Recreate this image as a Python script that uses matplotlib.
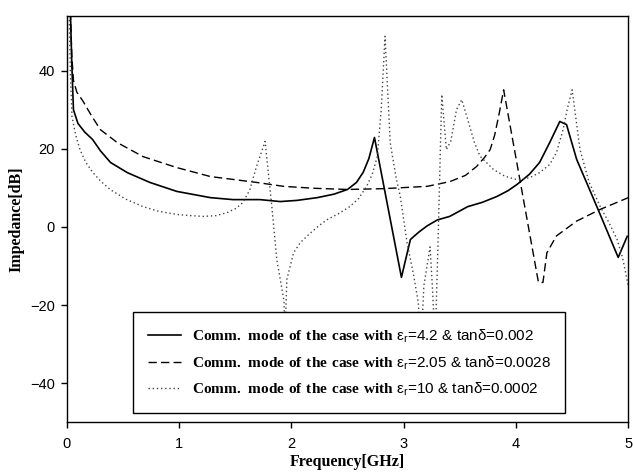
#!/usr/bin/env python3
"""
Common-mode impedance vs. frequency for three substrate cases.
Recreated line chart (solid / dashed / dotted curves) with boxed legend.
"""

import matplotlib
matplotlib.use('Agg')
import matplotlib.pyplot as plt

# --- data -----------------------------------------------------------------
# case 1: er=4.2, tan d=0.002 (solid)
solid_freq = [0.015, 0.03, 0.045, 0.06, 0.10, 0.16, 0.23, 0.30, 0.39, 0.54,
              0.74, 0.98, 1.28, 1.48, 1.72, 1.90, 2.05, 2.23, 2.38, 2.50,
              2.58, 2.64, 2.69, 2.74, 2.98, 3.06, 3.14, 3.21, 3.30, 3.41,
              3.57, 3.70, 3.83, 3.93, 4.01, 4.12, 4.21, 4.30, 4.39, 4.45,
              4.54, 4.72, 4.91, 4.99]
solid_imp = [80, 58, 42, 30, 26.5, 24.3, 22.4, 19.5, 16.5, 13.9,
             11.4, 9.1, 7.5, 7.0, 7.0, 6.5, 6.8, 7.5, 8.4, 9.6,
             11.4, 14.0, 17.5, 22.9, -12.9, -3.2, -1.2, 0.3, 1.8, 2.7,
             5.2, 6.3, 7.8, 9.3, 10.9, 13.5, 16.5, 21.6, 27.0, 26.2,
             17.3, 5.2, -7.8, -2.4]

# case 2: er=2.05, tan d=0.0028 (dashed)
dash_freq = [0.015, 0.03, 0.045, 0.06, 0.09, 0.145, 0.22, 0.30, 0.45, 0.68,
             0.98, 1.28, 1.69, 1.93, 2.20, 2.50, 2.82, 3.21, 3.41, 3.55,
             3.65, 3.72, 3.77, 3.81, 3.85, 3.89, 4.20, 4.24, 4.275, 4.36,
             4.54, 4.75, 5.0]
dash_imp = [80, 58, 44, 37.5, 34.5, 32.2, 28.5, 24.9, 21.6, 18.0,
            15.2, 12.9, 11.4, 10.4, 9.9, 9.6, 9.8, 10.4, 11.6, 13.2,
            15.5, 17.8, 19.8, 23.5, 29.0, 35.1, -14.2, -14.2, -6.6, -2.3,
            1.5, 4.5, 7.5]

# case 3: er=10, tan d=0.0002 (dotted)
dot_freq = [0.012, 0.022, 0.032, 0.047, 0.08, 0.118, 0.17, 0.234, 0.30, 0.386,
            0.52, 0.68, 0.82, 0.98, 1.10, 1.215, 1.33, 1.43, 1.51, 1.57,
            1.63, 1.69, 1.766, 1.826, 1.87, 1.935, 1.945, 1.952, 1.96, 2.02,
            2.08, 2.16, 2.24, 2.32, 2.42, 2.52, 2.60, 2.67, 2.72, 2.765,
            2.80, 2.834, 2.88, 2.93, 2.97, 3.03, 3.09, 3.13, 3.155, 3.18,
            3.235, 3.255, 3.28, 3.305, 3.339, 3.38, 3.42, 3.47, 3.517, 3.57,
            3.63, 3.68, 3.80, 3.90, 4.01, 4.12, 4.21, 4.30, 4.36, 4.42,
            4.455, 4.50, 4.57, 4.65, 4.75, 4.83, 4.90, 4.95, 5.0]
dot_imp = [80, 55, 40, 28.2, 23.5, 19.8, 16.5, 13.9, 11.8, 9.6,
           7.2, 5.2, 4.0, 3.2, 2.9, 2.7, 2.9, 3.7, 4.8, 6.3,
           9.5, 15.5, 21.9, 5.3, -8.3, -19, -35, -20, -13.4, -6.6,
           -4.0, -1.8, 0.2, 1.9, 3.4, 5.2, 7.3, 10.4, 13.5, 18.0,
           30, 48.8, 21.6, 13.0, 7.8, -4.0, -12.6, -19.3, -30, -15,
           -5.1, -15, -30, -5, 33.9, 19.8, 22.0, 30.0, 32.6, 27.5,
           21.6, 18.1, 14.7, 13.0, 12.1, 12.6, 13.9, 16.0, 19.0, 25.0,
           30.0, 35.1, 19.8, 11.5, 5.2, 1.0, -3.2, -8.0, -15.2]

labels = [
    r"$\mathbf{Comm.\ mode\ of\ the\ case\ with}$ ε$_\mathrm{r}$=4.2 & tanδ=0.002",
    r"$\mathbf{Comm.\ mode\ of\ the\ case\ with}$ ε$_\mathrm{r}$=2.05 & tanδ=0.0028",
    r"$\mathbf{Comm.\ mode\ of\ the\ case\ with}$ ε$_\mathrm{r}$=10 & tanδ=0.0002",
]

xticks = [0, 1, 2, 3, 4, 5]
yticks = [-40, -20, 0, 20, 40]

# --- styling ----------------------------------------------------------------
plt.rcParams['font.family'] = ['Liberation Sans', 'DejaVu Sans']
plt.rcParams['mathtext.fontset'] = 'custom'
plt.rcParams['mathtext.bf'] = 'Liberation Serif:bold'
plt.rcParams['mathtext.rm'] = 'Liberation Sans'

fig = plt.figure(figsize=(6.33, 4.75), dpi=100)
ax = fig.add_axes([0.1054, 0.111, 0.8872, 0.8553])

ax.plot(solid_freq, solid_imp, color='black', lw=1.2, ls='-', label=labels[0])
ax.plot(dash_freq, dash_imp, color='black', lw=1.0, ls=(0, (6, 3)), label=labels[1])
ax.plot(dot_freq, dot_imp, color='#444444', lw=1.0, ls=(0, (1, 2)), label=labels[2])

ax.set_xlim(0, 5)
ax.set_ylim(-50, 54)
ax.set_xticks(xticks)
ax.set_yticks(yticks)
ax.tick_params(direction='out', length=4.5, width=1, labelsize=10.5)
ax.tick_params(axis='x', pad=6)
ax.tick_params(axis='y', pad=4)
for spine in ax.spines.values():
    spine.set_linewidth(1.0)

ax.set_xlabel('Frequency[GHz]', family='Liberation Serif', fontweight='bold',
              fontsize=11.5, labelpad=2)
ax.set_ylabel('Impedance[dB]', family='Liberation Serif', fontweight='bold',
              fontsize=11.5, labelpad=4)

leg = ax.legend(loc='lower left', bbox_to_anchor=(0.118, 0.023), borderaxespad=0,
                fontsize=11, handlelength=2.2, handletextpad=0.7,
                borderpad=0.95, labelspacing=0.6, fancybox=False,
                framealpha=1, edgecolor='black')
leg.get_frame().set_linewidth(1.0)

fig.savefig('out.png', dpi=100, facecolor='white')
